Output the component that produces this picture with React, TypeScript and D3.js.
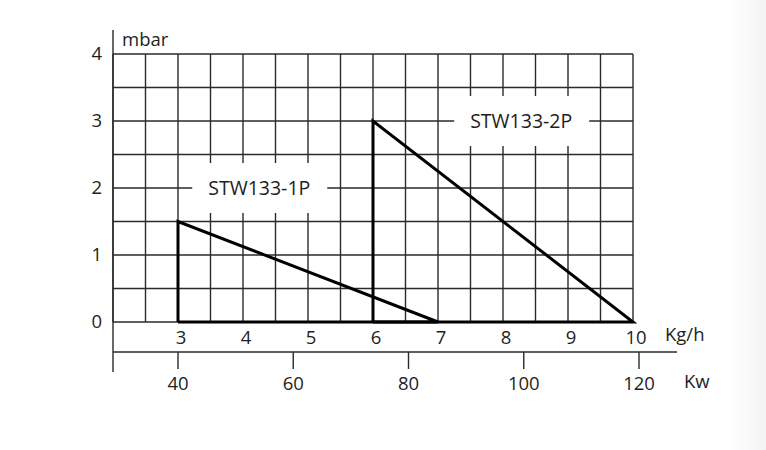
import { useEffect, useRef } from "react";
import * as d3 from "d3";

// chart values
const mbarTicks = [0, 1, 2, 3, 4];
const kgTicks = [3, 4, 5, 6, 7, 8, 9, 10];
const kwTicks = [40, 60, 80, 100, 120];

const series1P = { name: "STW133-1P", pts: [[3, 0], [3, 1.5], [7, 0], [3, 0]], label: [4.25, 2] };
const series2P = { name: "STW133-2P", pts: [[6, 0], [6, 3], [10, 0], [6, 0]], label: [8.28, 3] };
const seriesList = [series1P, series2P];

export default function App() {
  const width = 766;
  const height = 450;
  const marginTop = 54;
  const marginLeft = 113;
  const marginRight = 133; // 766 - 633
  const gridBottom = 322;
  const kwAxisY = 352;

  const ref = useRef(null);

  const x = d3.scaleLinear().domain([2, 10]).range([marginLeft, width - marginRight]);
  const y = d3.scaleLinear().domain([0, 4]).range([gridBottom, marginTop]);
  const kw = d3.scaleLinear().domain([40, 120]).range([x(3), 639]);

  useEffect(() => {
    const svg = d3.select(ref.current);
    svg.selectAll("*").remove();
    const font = "'Open Sans', sans-serif";
    const ink = "#2a2a2a";
    const txt = "#1e1e1e";
    const fs = 18.5;

    // faint grey band at the right edge
    const grad = svg.append("defs").append("linearGradient").attr("id", "edge");
    grad.append("stop").attr("offset", "0").attr("stop-color", "#fff");
    grad.append("stop").attr("offset", "1").attr("stop-color", "#f3f3f3");
    svg.append("rect")
      .attr("x", 730).attr("y", 0).attr("width", 36).attr("height", height)
      .attr("fill", "url(#edge)");

    // grid, every half unit
    const g = svg.append("g").attr("stroke", ink).attr("stroke-width", 1.4);
    g.selectAll("line.v")
      .data(d3.range(2, 10.01, 0.5))
      .join("line")
      .attr("x1", (d) => x(d)).attr("x2", (d) => x(d))
      .attr("y1", y(0)).attr("y2", y(4));
    g.selectAll("line.h")
      .data(d3.range(0, 4.01, 0.5))
      .join("line")
      .attr("x1", x(2)).attr("x2", x(10))
      .attr("y1", (d) => y(d)).attr("y2", (d) => y(d));

    // left axis line, runs past the grid
    svg.append("line")
      .attr("stroke", ink).attr("stroke-width", 1.4)
      .attr("x1", x(2)).attr("x2", x(2)).attr("y1", 30).attr("y2", 372);

    // label boxes cut the grid
    seriesList.forEach((s) => {
      const cx = x(s.label[0]);
      const cy = y(s.label[1]);
      svg.append("rect")
        .attr("x", cx - 67).attr("y", cy - 25)
        .attr("width", 135).attr("height", 50)
        .attr("fill", "#fff");
      svg.append("text")
        .attr("x", cx).attr("y", cy)
        .attr("dy", "0.35em")
        .attr("text-anchor", "middle")
        .attr("font-family", font).attr("font-size", 19.5)
        .attr("fill", txt)
        .text(s.name);
    });

    // triangles
    const line = d3.line().x((d) => x(d[0])).y((d) => y(d[1]));
    svg.append("g")
      .selectAll("path")
      .data(seriesList)
      .join("path")
      .attr("d", (d) => line(d.pts))
      .attr("fill", "none")
      .attr("stroke", "#000")
      .attr("stroke-width", 3)
      .attr("stroke-linejoin", "miter");

    // mbar axis labels
    svg.append("g")
      .selectAll("text")
      .data(mbarTicks)
      .join("text")
      .attr("x", 102).attr("y", (d) => y(d))
      .attr("dy", "0.35em")
      .attr("text-anchor", "end")
      .attr("font-family", font).attr("font-size", fs)
      .attr("fill", txt)
      .text((d) => d);
    svg.append("text")
      .attr("x", 122).attr("y", 46)
      .attr("font-family", font).attr("font-size", fs)
      .attr("fill", txt)
      .text("mbar");

    // Kg/h labels
    svg.append("g")
      .selectAll("text")
      .data(kgTicks)
      .join("text")
      .attr("x", (d) => x(d) + 3).attr("y", 338)
      .attr("dy", "0.35em")
      .attr("text-anchor", "middle")
      .attr("font-family", font).attr("font-size", fs)
      .attr("fill", txt)
      .text((d) => d);
    svg.append("text")
      .attr("x", 665).attr("y", 335)
      .attr("dy", "0.35em")
      .attr("font-family", font).attr("font-size", fs)
      .attr("fill", txt)
      .text("Kg/h");

    // Kw axis
    const gk = svg.append("g").attr("transform", `translate(0,${kwAxisY})`);
    gk.append("line")
      .attr("stroke", ink).attr("stroke-width", 1.4)
      .attr("x1", x(2)).attr("x2", 677);
    gk.selectAll("line.t")
      .data(kwTicks)
      .join("line")
      .attr("stroke", ink).attr("stroke-width", 1.4)
      .attr("x1", (d) => kw(d)).attr("x2", (d) => kw(d))
      .attr("y1", 0).attr("y2", 17);
    gk.selectAll("text")
      .data(kwTicks)
      .join("text")
      .attr("x", (d) => kw(d)).attr("y", 32)
      .attr("dy", "0.35em")
      .attr("text-anchor", "middle")
      .attr("font-family", font).attr("font-size", fs)
      .attr("fill", txt)
      .text((d) => d);
    svg.append("text")
      .attr("x", 684).attr("y", 382)
      .attr("dy", "0.35em")
      .attr("font-family", font).attr("font-size", fs)
      .attr("fill", txt)
      .text("Kw");
  }, [x, y, kw]);

  return (
    <div style={{ position: "absolute", left: 0, top: 0 }}>
      <svg ref={ref} width={width} height={height} style={{ display: "block", background: "#fff" }} />
    </div>
  );
}
